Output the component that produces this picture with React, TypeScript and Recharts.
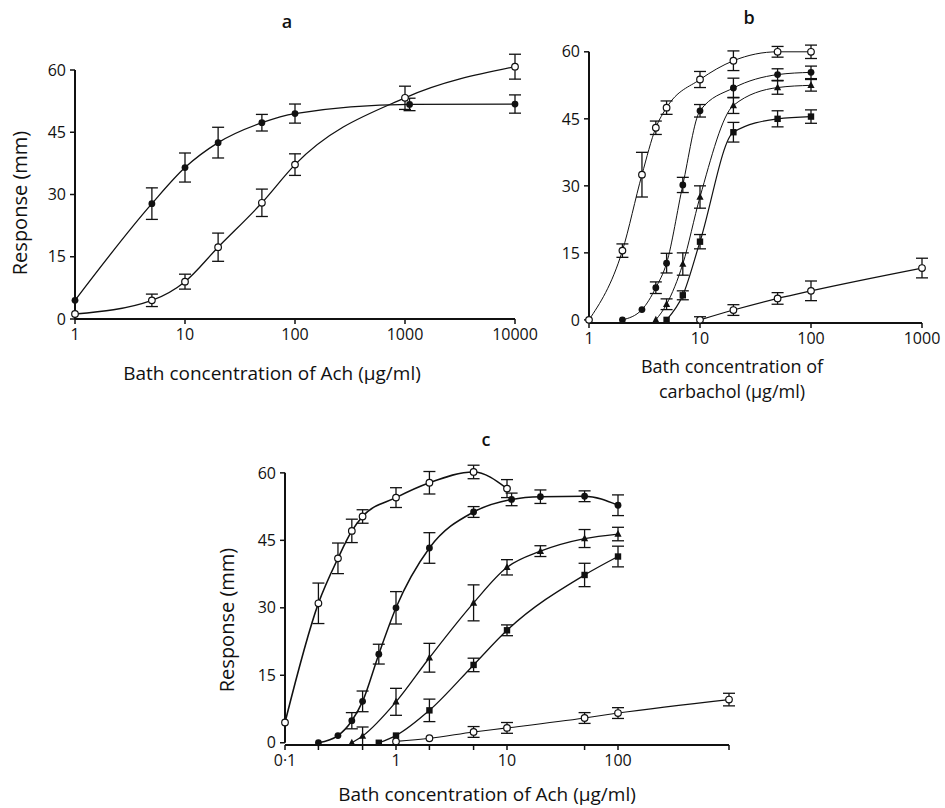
import React from 'react';
import { LineChart, Line, XAxis, YAxis, ErrorBar, ReferenceLine } from 'recharts';

// ---------- Panel a : Ach ----------
const aConcFilled = [1, 5, 10, 20, 50, 100, 1100, 10000];
const aRespFilled = [4.5, 27.8, 36.5, 42.5, 47.3, 49.5, 51.7, 51.8];
const aErrFilled = [null, 3.8, 3.5, 3.7, 2.0, 2.3, 1.5, 2.2];
const aConcOpen = [1, 5, 10, 20, 50, 100, 1000, 10000];
const aRespOpen = [1.2, 4.5, 9, 17.3, 28, 37.2, 53.3, 60.8];
const aErrOpen = [null, 1.5, 1.8, 3.4, 3.3, 2.6, 2.8, 3.0];
const aTicks = [1, 10, 100, 1000, 10000];

// ---------- Panel b : carbachol ----------
const b1Conc = [1, 2, 3, 4, 5, 10, 20, 50, 100];
const b1Resp = [0, 15.5, 32.5, 43, 47.5, 53.8, 58, 60, 60];
const b1Err = [null, 1.5, 5, 1.5, 1.5, 1.8, 2.2, 1.2, 1.5];
const b2Conc = [2, 3, 4, 5, 7, 10, 20, 50, 100];
const b2Resp = [0, 2.3, 7.2, 12.7, 30.2, 46.8, 51.9, 54.9, 55.4];
const b2Err = [null, null, 1.3, 2.2, 1.7, 1.4, 2.2, 1.3, 1.4];
const b3Conc = [4, 5, 7, 10, 20, 50, 100];
const b3Resp = [0, 3.5, 12.5, 27.5, 48, 52, 52.5];
const b3Err = [null, 1.2, 2.5, 2.5, 1.8, 1.5, 1.3];
const b4Conc = [5, 7, 10, 20, 50, 100];
const b4Resp = [0, 5.5, 17.5, 42, 45, 45.5];
const b4Err = [null, 1, 1.6, 2.2, 1.8, 1.5];
const b5Conc = [10, 20, 50, 100, 1000];
const b5Resp = [0, 2.2, 4.8, 6.5, 11.6];
const b5Err = [0.7, 1.2, 1.3, 2.2, 2.2];
const bTicks = [1, 10, 100, 1000];

// ---------- Panel c : Ach ----------
const c1Conc = [0.1, 0.2, 0.3, 0.4, 0.5, 1, 2, 5, 10];
const c1Resp = [4.5, 31, 41, 47.1, 50.3, 54.5, 57.8, 60.2, 56.5];
const c1Err = [null, 4.5, 3.4, 2.6, 1.5, 2.2, 2.5, 1.5, 2];
const c2Conc = [0.2, 0.3, 0.4, 0.5, 0.7, 1, 2, 5, 11, 20, 50, 100];
const c2Resp = [0, 1.6, 4.9, 9.2, 19.7, 30, 43.3, 51.3, 54.1, 54.7, 54.8, 52.8];
const c2Err = [null, null, 1.8, 2.3, 2.2, 3.6, 3.4, 1.2, 1.4, 1.5, 1.2, 2.3];
const c3Conc = [0.4, 0.5, 1, 2, 5, 10, 20, 50, 100];
const c3Resp = [0, 1.5, 9.1, 18.9, 31.1, 39, 42.6, 45.4, 46.4];
const c3Err = [null, 2, 3, 3.2, 4, 1.7, 1.2, 2, 1.5];
const c4Conc = [0.7, 1, 2, 5, 10, 50, 100];
const c4Resp = [0, 1.6, 7.2, 17.3, 25, 37.3, 41.4];
const c4Err = [null, null, 2.5, 1.5, 1.2, 2.6, 2.3];
const c5Conc = [1, 2, 5, 10, 50, 100, 1000];
const c5Resp = [0.3, 1, 2.4, 3.3, 5.5, 6.6, 9.6];
const c5Err = [null, null, 1.2, 1.2, 1.2, 1.2, 1.4];
const cTicks = [0.1, 0.2, 0.5, 1, 2, 5, 10, 50, 100, 1000];
const cTickLabels: Record<string, string> = { '0.1': '0·1', '1': '1', '10': '10', '100': '100' };

const yTicks = [0, 15, 30, 45, 60];
const Y_MAX = 64; // headroom above the top tick for points/error bars
const Y_TOP_TICK = 60;

const FONT = '"Open Sans", "DejaVu Sans", sans-serif';
const INK = '#111';

type Pt = { x: number; y: number; e: number | null };
const mk = (c: number[], r: number[], e: (number | null)[]): Pt[] =>
  c.map((x, i) => ({ x, y: r[i], e: e[i] }));

type Kind = 'open' | 'filled' | 'square' | 'tri';

const makeDot = (kind: Kind) => (props: any) => {
  const { cx, cy, index } = props;
  const key = `d-${kind}-${index}`;
  if (cx == null || cy == null) return <g key={key} />;
  if (kind === 'open')
    return <circle key={key} cx={cx} cy={cy} r={3.3} fill="#fff" stroke={INK} strokeWidth={1.2} />;
  if (kind === 'filled') return <circle key={key} cx={cx} cy={cy} r={3.4} fill={INK} />;
  if (kind === 'square')
    return <rect key={key} x={cx - 3.2} y={cy - 3.2} width={6.4} height={6.4} fill={INK} />;
  return (
    <path key={key} d={`M${cx},${cy - 4} L${cx + 3.6},${cy + 2.8} L${cx - 3.6},${cy + 2.8} Z`} fill={INK} />
  );
};

type Series = { data: Pt[]; kind: Kind; width?: number };

type PanelProps = {
  left: number;
  top: number;
  width: number;
  height: number;
  plot: { l: number; r: number; t60: number; b: number };
  domain: [number, number];
  ticks: number[];
  fmt: (v: number) => string;
  series: Series[];
};

const Y_W = 45;
const X_H = 30;

function Panel({ left, top, width, height, plot, domain, ticks, fmt, series }: PanelProps) {
  const unit = (plot.b - plot.t60) / Y_TOP_TICK;
  const plotTop = plot.b - unit * Y_MAX;
  const margin = {
    left: plot.l - left - Y_W,
    right: left + width - plot.r,
    top: plotTop - top,
    bottom: top + height - plot.b - X_H,
  };
  const tickStyle = { fontFamily: FONT, fontSize: 16, fill: INK };
  return (
    <div style={{ position: 'absolute', left, top, width, height }}>
      <LineChart width={width} height={height} margin={margin}>
        <XAxis
          type="number"
          dataKey="x"
          scale="log"
          domain={domain}
          ticks={ticks}
          interval={0}
          tickFormatter={fmt}
          tick={tickStyle}
          tickSize={5}
          tickMargin={5}
          height={X_H}
          axisLine={{ stroke: INK, strokeWidth: 2 }}
          tickLine={{ stroke: INK, strokeWidth: 1.5 }}
        />
        <YAxis
          type="number"
          dataKey="y"
          domain={[0, Y_MAX]}
          ticks={yTicks}
          interval={0}
          tick={tickStyle}
          tickSize={5}
          tickMargin={4}
          width={Y_W}
          axisLine={false}
          tickLine={{ stroke: INK, strokeWidth: 1.5 }}
        />
        <ReferenceLine
          segment={[
            { x: domain[0], y: 0 },
            { x: domain[0], y: Y_TOP_TICK },
          ]}
          stroke={INK}
          strokeWidth={2}
          ifOverflow="visible"
        />
        {series.map((s, i) => (
          <Line
            key={i}
            data={s.data}
            dataKey="y"
            type="monotone"
            stroke={INK}
            strokeWidth={s.width ?? 1.3}
            dot={makeDot(s.kind)}
            activeDot={false}
            isAnimationActive={false}
          >
            <ErrorBar dataKey="e" direction="y" width={6} stroke={INK} strokeWidth={1.3} />
          </Line>
        ))}
      </LineChart>
    </div>
  );
}

const txt = (x: number, y: number, s: string, size = 19, rotate = false, weight = 500) => (
  <div
    style={{
      position: 'absolute',
      left: x,
      top: y,
      transform: `translate(-50%, -50%)${rotate ? ' rotate(-90deg)' : ''}`,
      whiteSpace: 'nowrap',
      textAlign: 'center',
      fontFamily: FONT,
      fontSize: size,
      fontWeight: weight,
      color: INK,
      lineHeight: 1.1,
    }}
  >
    {s}
  </div>
);

export default function App() {
  const plain = (v: number) => String(v);
  return (
    <div style={{ position: 'absolute', left: 0, top: 0, width: 945, height: 808, background: '#fff', overflow: 'hidden' }}>
      <Panel
        left={0}
        top={30}
        width={540}
        height={340}
        plot={{ l: 75, r: 515, t60: 70, b: 319 }}
        domain={[1, 10000]}
        ticks={aTicks}
        fmt={plain}
        series={[
          { data: mk(aConcFilled, aRespFilled, aErrFilled), kind: 'filled' },
          { data: mk(aConcOpen, aRespOpen, aErrOpen), kind: 'open' },
        ]}
      />
      <Panel
        left={520}
        top={20}
        width={425}
        height={340}
        plot={{ l: 589, r: 922, t60: 52, b: 323 }}
        domain={[1, 1000]}
        ticks={bTicks}
        fmt={plain}
        series={[
          { data: mk(b1Conc, b1Resp, b1Err), kind: 'open', width: 1 },
          { data: mk(b2Conc, b2Resp, b2Err), kind: 'filled', width: 1 },
          { data: mk(b3Conc, b3Resp, b3Err), kind: 'tri', width: 1 },
          { data: mk(b4Conc, b4Resp, b4Err), kind: 'square', width: 1.2 },
          { data: mk(b5Conc, b5Resp, b5Err), kind: 'open', width: 1.2 },
        ]}
      />
      <Panel
        left={200}
        top={440}
        width={560}
        height={340}
        plot={{ l: 285, r: 729, t60: 473, b: 745 }}
        domain={[0.1, 1000]}
        ticks={cTicks}
        fmt={(v: number) => cTickLabels[String(v)] ?? ''}
        series={[
          { data: mk(c1Conc, c1Resp, c1Err), kind: 'open', width: 1.6 },
          { data: mk(c2Conc, c2Resp, c2Err), kind: 'filled', width: 1.5 },
          { data: mk(c3Conc, c3Resp, c3Err), kind: 'tri' },
          { data: mk(c4Conc, c4Resp, c4Err), kind: 'square' },
          { data: mk(c5Conc, c5Resp, c5Err), kind: 'open', width: 1.1 },
        ]}
      />
      {txt(287, 22, 'a', 18, false, 600)}
      {txt(749, 18, 'b', 18, false, 600)}
      {txt(486, 440, 'c', 18, false, 600)}
      {txt(272, 373, 'Bath concentration of Ach (μg/ml)')}
      {txt(20, 203, 'Response (mm)', 20, true)}
      {txt(732, 367, 'Bath concentration of', 18)}
      {txt(732, 392, 'carbachol (μg/ml)', 18)}
      {txt(487, 794, 'Bath concentration of Ach (μg/ml)')}
      {txt(227, 620, 'Response (mm)', 20, true)}
    </div>
  );
}
